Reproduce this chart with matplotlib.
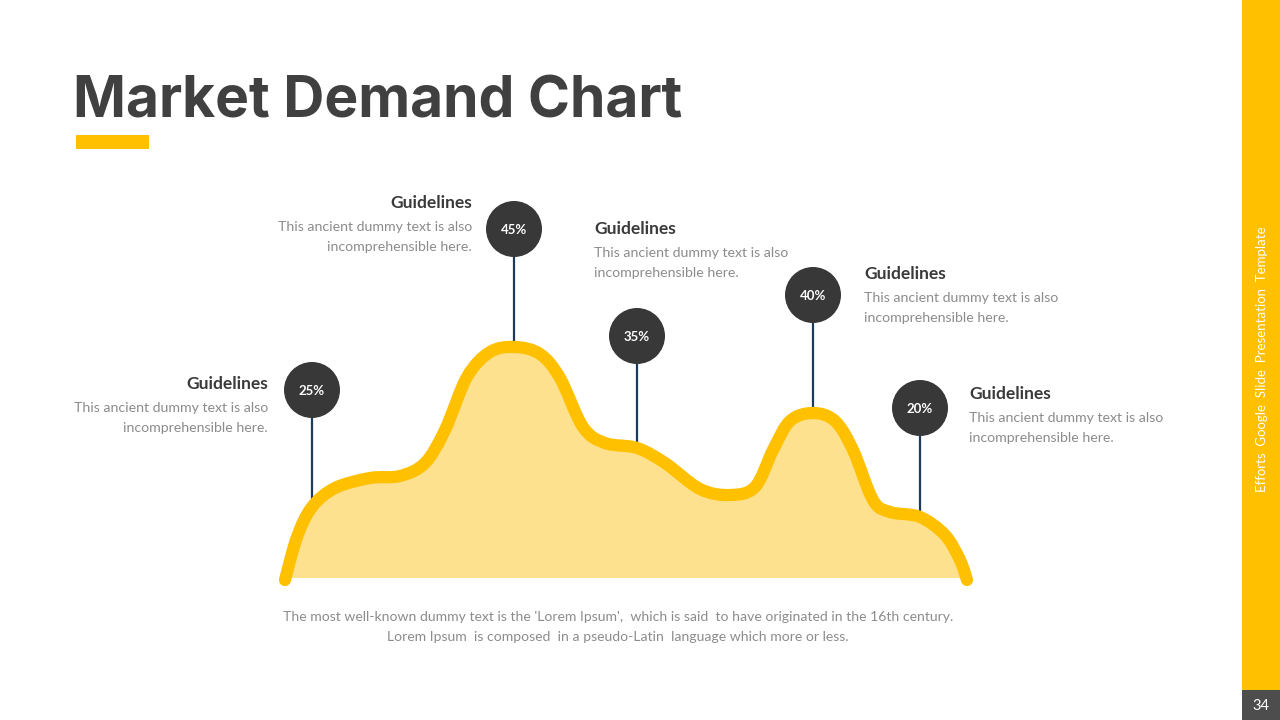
import matplotlib.pyplot as plt
from matplotlib.patches import Circle, Rectangle, PathPatch
from matplotlib.path import Path

# demand curve key points (pixel positions, y grows downwards)
curve_x = [285, 297, 312, 335, 370, 400, 425, 445, 467, 490, 515, 540, 560, 583,
           605, 637, 665, 700, 730, 755, 773, 790, 813, 835, 853, 873, 890, 920,
           945, 960, 967]
curve_y = [580, 537, 507, 488, 478, 476, 463, 430, 377, 352, 347, 354, 378, 427,
           443, 448, 463, 489, 495, 487, 450, 421, 413, 421, 450, 500, 512, 517,
           535, 560, 580]
baseline = 578

# markers
pct_labels = ["25%", "45%", "35%", "40%", "20%"]
pct_x = [312, 514, 637, 813, 920]
pct_y = [390, 229, 336, 295, 408]
stem_end = [507, 347, 447, 413, 517]

# callout text blocks
note_title = "Guidelines"
note_lines = ["This ancient dummy text is also", "incomprehensible here."]
note_x = [268, 472, 594, 864, 969]
note_y = [384, 203, 229, 274, 394]
note_align = ["right", "right", "left", "left", "left"]

caption = ["The most well-known dummy text is the 'Lorem Ipsum',  which is said  to have originated in the 16th century.",
           "Lorem Ipsum  is composed  in a pseudo-Latin  language which more or less."]

YELLOW = "#FFC000"
FILL = "#FEE18E"
DARK = "#383838"
STEM = "#1B3A5C"
GREY = "#8C8C8C"
FONT = ["Lato", "DejaVu Sans"]


def smooth_curve(xs, ys):
    # catmull-rom through the points, handed to matplotlib as cubic beziers
    pts = list(zip(xs, ys))
    verts = [pts[0]]
    codes = [Path.MOVETO]
    for i in range(len(pts) - 1):
        p0 = pts[i - 1] if i > 0 else pts[i]
        p1, p2 = pts[i], pts[i + 1]
        p3 = pts[i + 2] if i + 2 < len(pts) else p2
        c1 = (p1[0] + (p2[0] - p0[0]) / 6, p1[1] + (p2[1] - p0[1]) / 6)
        c2 = (p2[0] - (p3[0] - p1[0]) / 6, p2[1] - (p3[1] - p1[1]) / 6)
        verts += [c1, c2, p2]
        codes += [Path.CURVE4] * 3
    return verts, codes


fig = plt.figure(figsize=(12.8, 7.2), dpi=100)
ax = fig.add_axes([0, 0, 1, 1])
ax.set_xlim(0, 1280)
ax.set_ylim(720, 0)
ax.axis("off")

# title + accent bar
ax.text(73, 103, "Market Demand Chart", fontsize=41, fontweight="bold",
        color="#404040", va="center", ha="left", family=["Inter", "DejaVu Sans"])
ax.add_patch(Rectangle((76, 135), 73, 14, color=YELLOW, lw=0))

# right side band
ax.add_patch(Rectangle((1242, 0), 38, 720, color=YELLOW, lw=0))
ax.add_patch(Rectangle((1242, 690), 38, 30, color="#4D4D4D", lw=0))
ax.text(1261, 706, "34", color="white", fontsize=10.5, ha="center", va="center",
        family=FONT)
ax.text(1262, 359, "Efforts  Google  Slide  Presentation  Template", color="white",
        fontsize=9.5, rotation=90, ha="center", va="center", family=FONT)

# area + curve
verts, codes = smooth_curve(curve_x, curve_y)
area = Path(verts + [(curve_x[-1], baseline), (curve_x[0], baseline), verts[0]],
            codes + [Path.LINETO, Path.LINETO, Path.CLOSEPOLY])
ax.add_patch(PathPatch(area, facecolor=FILL, lw=0, zorder=1))
ax.add_patch(PathPatch(Path(verts, codes), facecolor="none", edgecolor=YELLOW,
                       lw=8.8, capstyle="round", joinstyle="round", zorder=3))

# stems and percent bubbles
for lab, x, y, y_end in zip(pct_labels, pct_x, pct_y, stem_end):
    ax.plot([x, x], [y, y_end], color=STEM, lw=1.6, zorder=2)
    ax.add_patch(Circle((x, y), 28, color=DARK, lw=0, zorder=4))
    ax.text(x, y + 1, lab, color="white", fontsize=9.5, fontweight="bold",
            ha="center", va="center", family=FONT, zorder=5)

# callouts
for x, y, ha in zip(note_x, note_y, note_align):
    ax.text(x, y, note_title, color="#3A3A3A", fontsize=12.5, fontweight="bold",
            ha=ha, va="center", family=FONT)
    for i, line in enumerate(note_lines):
        ax.text(x, y + 24 + 20 * i, line, color=GREY, fontsize=10.2,
                ha=ha, va="center", family=FONT)

for i, line in enumerate(caption):
    ax.text(618, 617 + 20 * i, line, color=GREY, fontsize=10.1,
            ha="center", va="center", family=FONT)

fig.savefig("out.png", dpi=100)
